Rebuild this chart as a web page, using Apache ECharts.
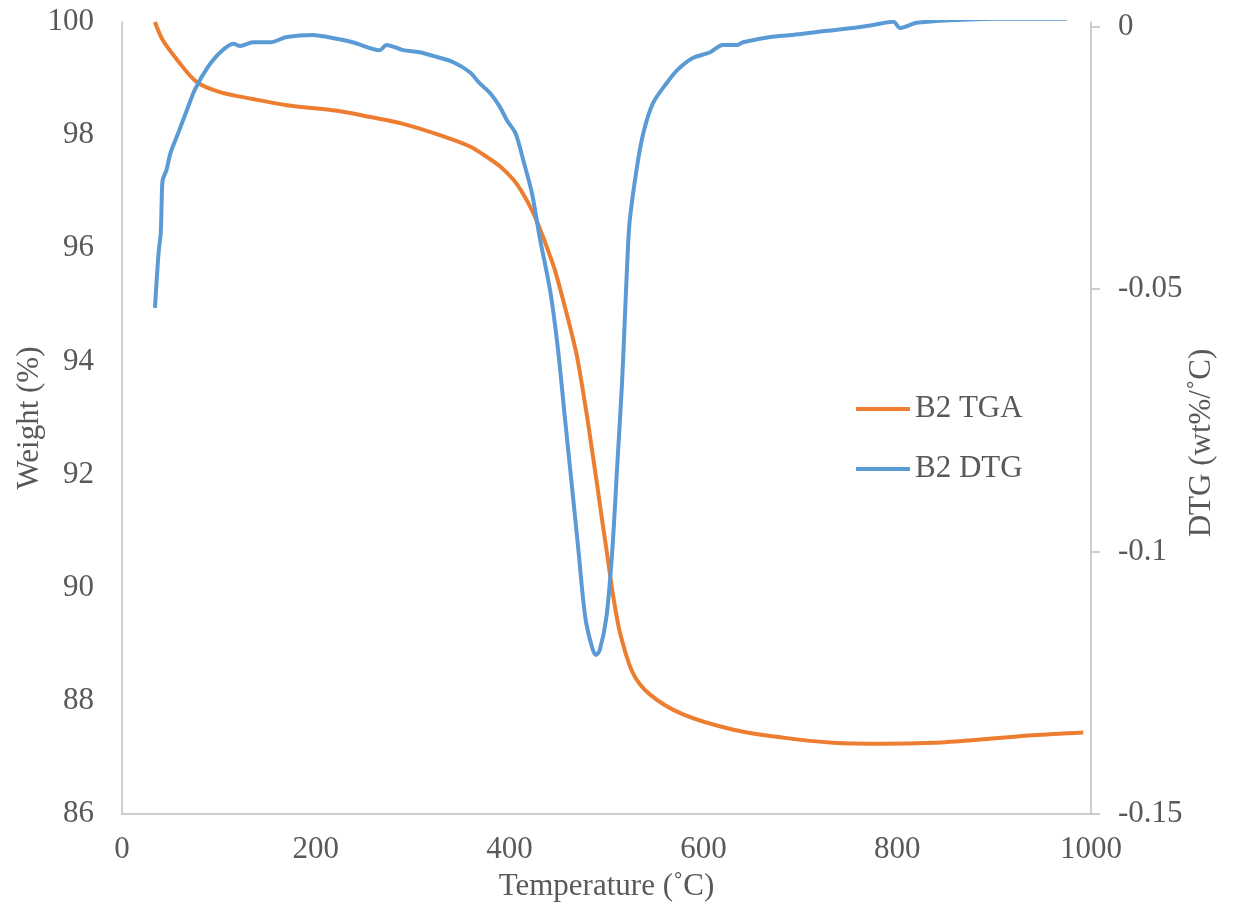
<!DOCTYPE html>
<html>
<head>
<meta charset="utf-8">
<script src="https://cdn.jsdelivr.net/npm/echarts@6/dist/echarts.min.js"></script>
<style>html,body{margin:0;padding:0;background:#fff;}#c{width:1247px;height:902px;}</style>
</head>
<body>
<div id="c"></div>
<script>
// Temperature (°C) and weight (%) for TGA
const tgaTemp = [34, 42, 57, 77, 101, 135, 170, 222, 256, 290, 328, 359, 377, 390, 404, 414, 424, 433, 442, 447, 455, 464, 470, 480, 485, 490, 495, 500, 504, 507, 514, 527, 545, 579, 631, 682, 734, 785, 837, 889, 940, 992];
const tgaWeight = [100, 99.68, 99.33, 98.94, 98.76, 98.64, 98.53, 98.43, 98.32, 98.2, 98.0, 97.8, 97.61, 97.45, 97.21, 96.96, 96.64, 96.27, 95.85, 95.6, 95.1, 94.5, 94.05, 93.02, 92.44, 91.86, 91.25, 90.67, 90.19, 89.84, 89.2, 88.5, 88.11, 87.76, 87.49, 87.35, 87.26, 87.24, 87.26, 87.32, 87.39, 87.44];
// Temperature (°C) and DTG (wt%/°C)
const dtgTemp = [34, 36, 38, 40, 41, 42, 46, 50, 58, 67, 75, 88, 101, 115, 122, 135, 153, 170, 197, 212, 238, 266, 273, 290, 307, 325, 342, 359, 369, 380, 390, 397, 406, 414, 423, 431, 442, 450, 457, 464, 471, 478, 485, 489, 493, 500, 506, 511, 516, 519, 522, 524, 531, 538, 548, 562, 573, 589, 607, 620, 635, 641, 669, 692, 723, 754, 775, 796, 803, 820, 854, 900, 940, 975];
const dtgValue = [-0.0536, -0.0477, -0.0426, -0.0393, -0.033, -0.0292, -0.0273, -0.0241, -0.0203, -0.0159, -0.0121, -0.0079, -0.005, -0.0033, -0.0037, -0.003, -0.003, -0.002, -0.0016, -0.002, -0.003, -0.0045, -0.0035, -0.0045, -0.0049, -0.0058, -0.0068, -0.0087, -0.0108, -0.0127, -0.0153, -0.0178, -0.0203, -0.0254, -0.0317, -0.0401, -0.0505, -0.0616, -0.0744, -0.087, -0.0997, -0.1124, -0.1182, -0.1197, -0.1188, -0.1124, -0.0997, -0.0839, -0.068, -0.0553, -0.0426, -0.0369, -0.0273, -0.0203, -0.0146, -0.0108, -0.0083, -0.006, -0.0049, -0.0035, -0.0035, -0.003, -0.002, -0.0016, -0.0009, -0.0003, 0.0003, 0.0009, -0.0003, 0.0007, 0.0012, 0.0015, 0.0015, 0.0015];
const leftTicks = [86, 88, 90, 92, 94, 96, 98, 100];
const rightTicks = [-0.15, -0.1, -0.05, 0];
const xTicks = [0, 200, 400, 600, 800, 1000];

const FONT = 'Liberation Serif';
const FS = 31;
const GREY = '#595959';
const AXIS = '#bfbfbf';

const chart = echarts.init(document.getElementById('c'), null, {renderer: 'canvas'});
chart.setOption({
  backgroundColor: '#fff',
  animation: false,
  grid: {left: 122, right: 156, top: 22, bottom: 88, containLabel: false, outerBoundsMode: 'none'},
  legend: {
    orient: 'vertical', left: 856, top: 391, padding: 0,
    icon: 'rect', itemWidth: 54, itemHeight: 4, itemGap: 24,
    textStyle: {fontFamily: FONT, fontSize: FS, color: GREY, lineHeight: 36},
    data: ['B2 TGA', 'B2 DTG']
  },
  xAxis: {
    type: 'value', min: 0, max: 1000, interval: 200,
    name: 'Temperature (˚C)', nameLocation: 'middle', nameGap: 57, nameMoveOverlap: false,
    nameTextStyle: {fontFamily: FONT, fontSize: FS, color: GREY},
    axisLine: {show: true, onZero: false, lineStyle: {color: AXIS, width: 1.5}},
    axisTick: {show: false},
    splitLine: {show: false},
    axisLabel: {fontFamily: FONT, fontSize: FS, color: GREY, margin: 20,
      customValues: xTicks, formatter: v => String(v)}
  },
  yAxis: [{
    type: 'value', min: 86, max: 100, interval: 2, position: 'left',
    name: 'Weight (%)', nameLocation: 'middle', nameGap: 77, nameMoveOverlap: false,
    nameTextStyle: {fontFamily: FONT, fontSize: FS, color: GREY},
    axisLine: {show: true, onZero: false, lineStyle: {color: AXIS, width: 1.5}},
    axisTick: {show: false},
    splitLine: {show: false},
    axisLabel: {fontFamily: FONT, fontSize: FS, color: GREY, margin: 28,
      customValues: leftTicks}
  }, {
    type: 'value', min: -0.15, max: 0.00086, position: 'right',
    name: 'DTG (wt%/˚C)', nameLocation: 'middle', nameGap: 95, nameMoveOverlap: false,
    nameTextStyle: {fontFamily: FONT, fontSize: FS, color: GREY, padding: [0, 50, 0, 0]},
    axisLine: {show: true, onZero: false, lineStyle: {color: AXIS, width: 1.5}},
    axisTick: {show: true, inside: false, length: 9, lineStyle: {color: AXIS, width: 1.5},
      customValues: rightTicks},
    splitLine: {show: false},
    axisLabel: {fontFamily: FONT, fontSize: FS, color: GREY, margin: 27,
      customValues: rightTicks, formatter: v => String(v)}
  }],
  series: [{
    name: 'B2 TGA', type: 'line', yAxisIndex: 0, symbol: 'none', smooth: 0.3,
    lineStyle: {color: '#ED7D31', width: 4}, itemStyle: {color: '#ED7D31'},
    data: tgaTemp.map((t, i) => [t, tgaWeight[i]])
  }, {
    name: 'B2 DTG', type: 'line', yAxisIndex: 1, symbol: 'none', smooth: 0.3,
    clip: true,
    lineStyle: {color: '#5B9BD5', width: 4}, itemStyle: {color: '#5B9BD5'},
    data: dtgTemp.map((t, i) => [t, dtgValue[i]])
  }]
});
</script>
</body>
</html>
